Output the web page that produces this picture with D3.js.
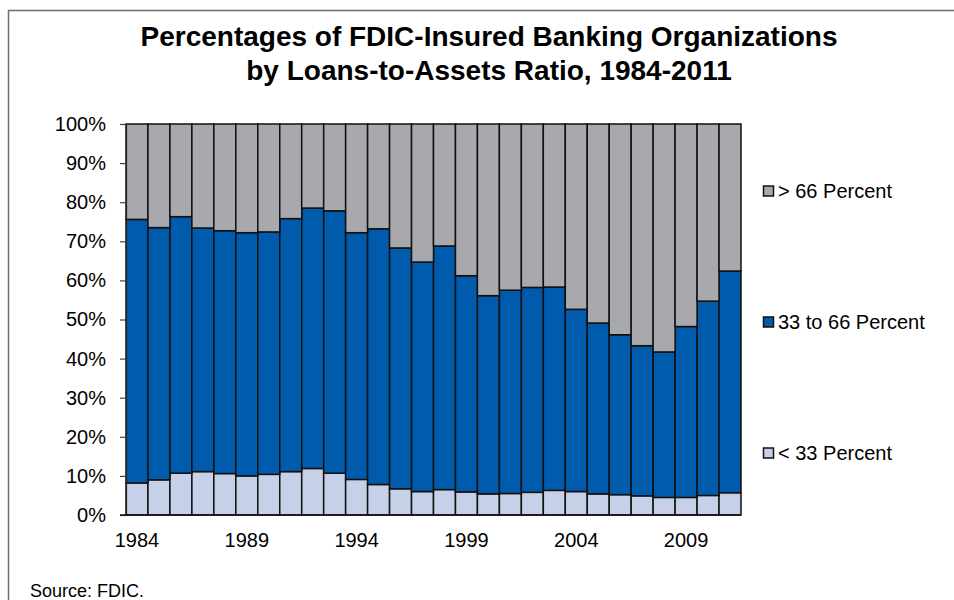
<!DOCTYPE html>
<html>
<head>
<meta charset="utf-8">
<script src="https://cdn.jsdelivr.net/npm/d3@7"></script>
<style>
  html, body { margin: 0; padding: 0; background: #fff; }
  svg { display: block; }
  text { font-family: "Liberation Sans", Arial, sans-serif; fill: #000; }
</style>
</head>
<body>
<svg id="chart" width="954" height="600"></svg>
<script>
const years = [1984,1985,1986,1987,1988,1989,1990,1991,1992,1993,1994,1995,1996,1997,1998,1999,2000,2001,2002,2003,2004,2005,2006,2007,2008,2009,2010,2011];
// share of organizations with loans-to-assets < 33 percent
const below33 = [8.2,9.0,10.7,11.1,10.6,10.0,10.4,11.1,11.9,10.7,9.1,7.8,6.7,6.0,6.5,5.9,5.4,5.5,5.8,6.3,6.0,5.4,5.2,4.9,4.5,4.5,5.0,5.7];
// cumulative top of the 33-66 percent segment (i.e. < 33 + 33 to 66)
const cumTo66 = [75.6,73.5,76.3,73.4,72.7,72.2,72.4,75.8,78.5,77.8,72.2,73.2,68.3,64.7,68.8,61.2,56.1,57.5,58.2,58.3,52.6,49.1,46.1,43.3,41.7,48.2,54.7,62.4];
const seriesNames = ["< 33 Percent", "33 to 66 Percent", "> 66 Percent"];
const seriesColors = ["#C6D0E8", "#005BAC", "#A7A9AC"];
const legendOrder = ["> 66 Percent", "33 to 66 Percent", "< 33 Percent"];
const yTicks = [0,10,20,30,40,50,60,70,80,90,100];
const xLabelYears = [1984,1989,1994,1999,2004,2009];
const titleLines = ["Percentages of FDIC-Insured Banking Organizations", "by Loans-to-Assets Ratio, 1984-2011"];
const sourceText = "Source: FDIC.";

const mid = cumTo66.map((v, i) => +(v - below33[i]).toFixed(1));
const above66 = cumTo66.map(v => +(100 - v).toFixed(1));
const rows = years.map((yr, i) => ({ year: yr, "< 33 Percent": below33[i], "33 to 66 Percent": mid[i], "> 66 Percent": above66[i] }));

const svg = d3.select("#chart");

// outer frame
svg.append("rect")
  .attr("x", 8.5).attr("y", 10.5)
  .attr("width", 1000).attr("height", 700)
  .attr("fill", "none").attr("stroke", "#6e6e6e").attr("stroke-width", 1.5);

const plotLeft = 126, plotRight = 741, plotTop = 124, plotBottom = 515;

const x = d3.scaleBand().domain(years).range([plotLeft, plotRight]).padding(0);
const y = d3.scaleLinear().domain([0, 100]).range([plotBottom, plotTop]);
const color = d3.scaleOrdinal().domain(seriesNames).range(seriesColors);

const stacked = d3.stack().keys(seriesNames)(rows);

svg.append("g").selectAll("g")
  .data(stacked).join("g")
  .attr("fill", d => color(d.key))
  .selectAll("rect")
  .data(d => d).join("rect")
  .attr("x", d => x(d.data.year))
  .attr("y", d => y(d[1]))
  .attr("width", x.bandwidth())
  .attr("height", d => y(d[0]) - y(d[1]))
  .attr("stroke", "#111")
  .attr("stroke-width", 1.5);

// y axis
const yAxis = svg.append("g")
  .attr("transform", `translate(${plotLeft},0)`)
  .call(d3.axisLeft(y).tickValues(yTicks).tickFormat(d => d + "%").tickSize(6).tickPadding(14));
yAxis.select(".domain").attr("stroke", "#222").attr("stroke-width", 1.2);
yAxis.selectAll(".tick line").attr("stroke", "#444").attr("stroke-width", 1.2);
yAxis.selectAll(".tick text")
  .attr("font-size", 20)
  .attr("font-family", "Liberation Sans, Arial, sans-serif")
  .attr("fill", "#000");

// x axis
const xAxis = svg.append("g")
  .attr("transform", `translate(0,${plotBottom})`)
  .call(d3.axisBottom(x).tickValues(xLabelYears).tickSize(0).tickPadding(18));
xAxis.select(".domain").attr("stroke", "#111").attr("stroke-width", 1.5).attr("d", `M${plotLeft - 6},0H${plotRight}`);
xAxis.selectAll(".tick text")
  .attr("font-size", 20)
  .attr("font-family", "Liberation Sans, Arial, sans-serif")
  .attr("fill", "#000");

// title
svg.append("g").selectAll("text")
  .data(titleLines).join("text")
  .attr("x", 489)
  .attr("y", (d, i) => 46 + i * 34)
  .attr("text-anchor", "middle")
  .attr("font-size", 28)
  .attr("font-weight", "bold")
  .text(d => d);

// legend
const legendY = d3.scalePoint().domain(legendOrder).range([191, 453]);
const lg = svg.append("g").selectAll("g")
  .data(legendOrder).join("g")
  .attr("transform", d => `translate(763,${legendY(d)})`);
lg.append("rect")
  .attr("x", 0.5).attr("y", -5)
  .attr("width", 10).attr("height", 10)
  .attr("fill", d => color(d))
  .attr("stroke", "#111").attr("stroke-width", 1.5);
lg.append("text")
  .attr("x", 15).attr("y", 0)
  .attr("dy", "0.35em")
  .attr("font-size", 20)
  .text(d => d);

// source
svg.append("text")
  .attr("x", 30).attr("y", 597)
  .attr("font-size", 18)
  .text(sourceText);
</script>
</body>
</html>
